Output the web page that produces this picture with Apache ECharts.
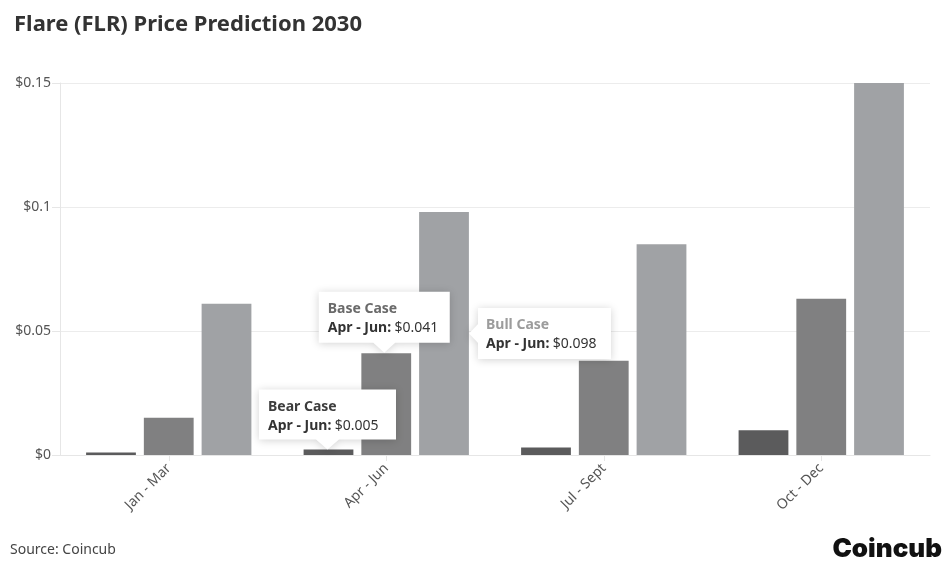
<!DOCTYPE html>
<html>
<head>
<meta charset="utf-8">
<script src="https://cdn.jsdelivr.net/npm/echarts@6/dist/echarts.min.js"></script>
<style>html,body{margin:0;padding:0;background:#fff;}#c{width:952px;height:574px;}</style>
</head>
<body>
<div id="c"></div>
<script>
const categories = ['Jan - Mar', 'Apr - Jun', 'Jul - Sept', 'Oct - Dec'];
const seriesNames = ['Bear Case', 'Base Case', 'Bull Case'];
const bearValues = [0.001, 0.0022, 0.003, 0.01];
const baseValues = [0.015, 0.041, 0.038, 0.063];
const bullValues = [0.061, 0.098, 0.085, 0.15];
const yTicks = [0, 0.05, 0.1, 0.15];
const tooltipTexts = { bear: '$0.005', base: '$0.041', bull: '$0.098' };

const FONT = '"Noto Sans", sans-serif';
const colors = ['#5b5b5c', '#808081', '#a0a2a5'];
const titleColors = ['#3d3d3d', '#6a6a6a', '#9c9c9c'];

function tipLabel(i, cat, txt) {
  return {
    show: true,
    position: [9, 8],
    align: 'left',
    verticalAlign: 'top',
    formatter: '{t|' + seriesNames[i] + '}\n{b|' + cat + ':} {v|' + txt + '}',
    rich: {
      t: { fontFamily: FONT, fontSize: 14, fontWeight: 'bold', color: titleColors[i], lineHeight: 19 },
      b: { fontFamily: FONT, fontSize: 14, fontWeight: 'bold', color: '#333', lineHeight: 19 },
      v: { fontFamily: FONT, fontSize: 14, color: '#333', lineHeight: 19 }
    }
  };
}
const downPath = 'path://M0,0 L137,0 L137,50 L80,50 L68.5,60 L57,50 L0,50 Z';
const leftPath = 'path://M9,0 L142,0 L142,51 L9,51 L9,35 L0,25.5 L9,16 Z';
const tipItemStyle = { color: '#fff', shadowBlur: 8, shadowColor: 'rgba(0,0,0,0.18)', shadowOffsetY: 1 };

const chart = echarts.init(document.getElementById('c'));
chart.setOption({
  animation: false,
  backgroundColor: '#fff',
  title: {
    text: 'Flare (FLR) Price Prediction 2030',
    left: 9, top: 9,
    textStyle: { fontFamily: FONT, fontSize: 22, fontWeight: 'bold', color: '#333' }
  },
  grid: { left: 60, right: 22, top: 83, bottom: 119 },
  xAxis: {
    type: 'category',
    data: categories,
    axisLine: { lineStyle: { color: '#e6e6e6' } },
    axisTick: { show: true, alignWithLabel: true, length: 6, lineStyle: { color: '#e6e6e6' } },
    axisLabel: { rotate: 45, fontFamily: FONT, fontSize: 14, color: '#555', margin: 11 }
  },
  yAxis: {
    type: 'value',
    min: 0, max: 0.15, interval: 0.05,
    axisLine: { show: true, lineStyle: { color: '#e6e6e6' } },
    axisTick: { show: true, length: 8, lineStyle: { color: '#e6e6e6' } },
    splitLine: { lineStyle: { color: '#ececec' } },
    axisLabel: {
      fontFamily: FONT, fontSize: 14, color: '#555', margin: 9,
      formatter: v => '$' + (yTicks.includes(+v.toFixed(2)) ? String(+v.toFixed(2)) : v)
    }
  },
  series: [
    {
      name: seriesNames[0], type: 'bar', data: bearValues, barGap: '16%', barCategoryGap: '24%',
      itemStyle: { color: colors[0] },
      markPoint: {
        symbol: downPath, symbolSize: [137, 60], symbolOffset: [-1, '-50%'],
        itemStyle: tipItemStyle,
        data: [{ coord: [categories[1], bearValues[1]], label: tipLabel(0, 'Apr - Jun', tooltipTexts.bear) }]
      }
    },
    {
      name: seriesNames[1], type: 'bar', data: baseValues,
      itemStyle: { color: colors[1] },
      markPoint: {
        symbol: downPath, symbolSize: [131, 61], symbolOffset: [-2, -31],
        itemStyle: tipItemStyle,
        data: [{ coord: [categories[1], baseValues[1]], label: tipLabel(1, 'Apr - Jun', tooltipTexts.base) }]
      }
    },
    {
      name: seriesNames[2], type: 'bar', data: bullValues,
      itemStyle: { color: colors[2] },
      markPoint: {
        symbol: leftPath, symbolSize: [142, 51], symbolOffset: [96, 0],
        itemStyle: tipItemStyle,
        data: [{ coord: [categories[1], bullValues[1] / 2], label: Object.assign(tipLabel(2, 'Apr - Jun', tooltipTexts.bull), { position: [17, 8] }) }]
      }
    }
  ],
  graphic: [
    { type: 'text', left: 10, top: 543, style: { text: 'Source: Coincub', font: '14px ' + FONT, fill: '#444' } },
    { type: 'text', right: 10, top: 536, style: { text: 'Coincub', font: '900 26px Inter, sans-serif', fill: '#111' } }
  ]
});
</script>
</body>
</html>
